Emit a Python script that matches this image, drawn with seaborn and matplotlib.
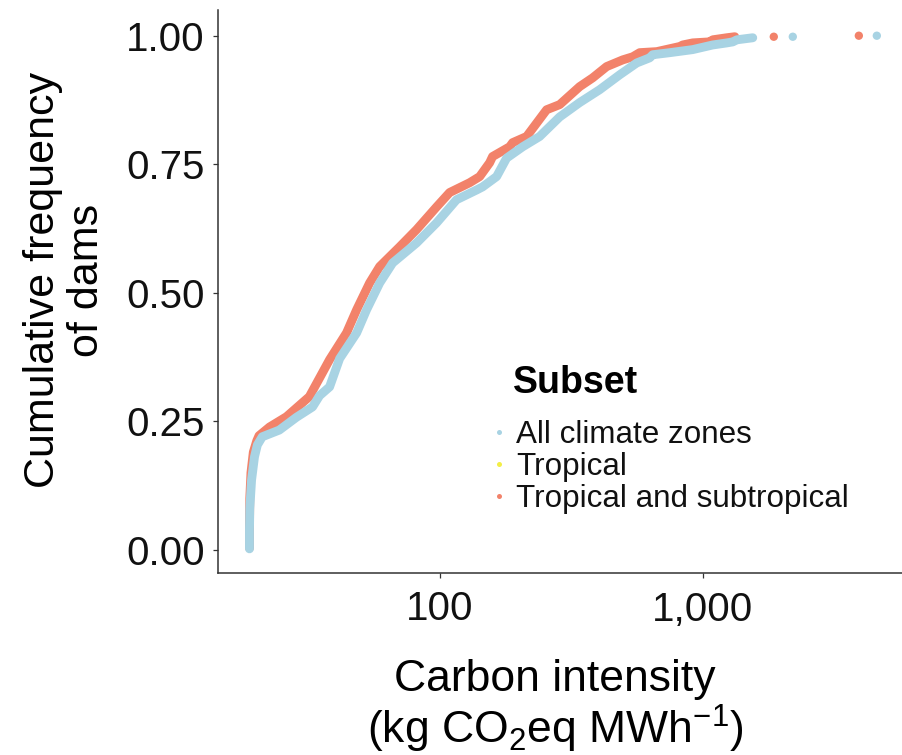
import numpy as np
import pandas as pd
import matplotlib
matplotlib.use("Agg")
import matplotlib.pyplot as plt
from matplotlib.lines import Line2D
from matplotlib.ticker import NullLocator
import seaborn as sns

# ---------------- data ----------------
subsets = ["All climate zones", "Tropical", "Tropical and subtropical"]
palette = {"All climate zones": "#A8D3E3",
           "Tropical": "#F3EE45",
           "Tropical and subtropical": "#F2826A"}

# All climate zones: carbon intensity (kg CO2eq/MWh) vs cumulative frequency
all_x = [18.95, 18.95, 19.0, 19.3, 19.8, 20.3, 21.2, 24.6, 28.6, 32.9, 35.0,
         38.2, 41.7, 48.4, 52.8, 59.2, 66.3, 81.8, 97.4, 116.0, 138.3, 145.7,
         164.7, 179.8, 206.9, 240.0, 286.0, 340.7, 405.8, 483.6, 561.2, 628.8,
         645.5, 749.1, 916.2, 1091, 1234, 1301, 1347, 1444, 1549]
all_y = [0.002, 0.040, 0.080, 0.136, 0.181, 0.204, 0.220, 0.233, 0.258, 0.278, 0.300,
         0.317, 0.372, 0.422, 0.467, 0.519, 0.558, 0.597, 0.636, 0.681, 0.700, 0.706,
         0.726, 0.762, 0.784, 0.804, 0.842, 0.870, 0.895, 0.924, 0.947, 0.957,
         0.963, 0.967, 0.973, 0.982, 0.986, 0.988, 0.992, 0.994, 0.996]
all_tail_x = [2199, 4587]
all_tail_y = [0.998, 1.000]

# Tropical and subtropical
trsub_x = [18.95, 18.95, 19.0, 19.2, 19.6, 20.2, 20.6, 22.6, 26.2, 32.0, 38.2,
           44.3, 48.4, 54.2, 59.2, 70.4, 81.8, 97.4, 109.2, 130.0, 142.0, 155.0,
           159.0, 184.6, 189.5, 214.2, 255.2, 286.0, 340.7, 381.6, 431.5, 496.5,
           541.9, 576.1, 668.6, 817.8, 839.5, 916.2, 1063, 1091, 1234, 1324]
trsub_y = [0.004, 0.050, 0.100, 0.150, 0.190, 0.212, 0.222, 0.239, 0.259, 0.298, 0.370,
           0.422, 0.467, 0.519, 0.551, 0.589, 0.623, 0.667, 0.695, 0.714, 0.726, 0.753,
           0.765, 0.784, 0.792, 0.804, 0.856, 0.866, 0.901, 0.918, 0.940, 0.953,
           0.959, 0.967, 0.969, 0.979, 0.982, 0.986, 0.988, 0.992, 0.996, 0.998]
trsub_tail_x = [1862, 3919]
trsub_tail_y = [0.998, 1.000]

x_ticks = [100, 1000]
x_tick_labels = ["100", "1,000"]
y_ticks = [0.00, 0.25, 0.50, 0.75, 1.00]
y_tick_labels = ["0.00", "0.25", "0.50", "0.75", "1.00"]

# ---------------- tables ----------------
curve_all = pd.DataFrame({"intensity": all_x, "freq": all_y, "subset": subsets[0]})
curve_trsub = pd.DataFrame({"intensity": trsub_x, "freq": trsub_y, "subset": subsets[2]})
tail = pd.concat([
    pd.DataFrame({"intensity": trsub_tail_x, "freq": trsub_tail_y, "subset": subsets[2]}),
    pd.DataFrame({"intensity": all_tail_x, "freq": all_tail_y, "subset": subsets[0]}),
], ignore_index=True)

# ---------------- style ----------------
sns.set_theme(style="white")
plt.rcParams["font.family"] = ["Liberation Sans", "DejaVu Sans"]
plt.rcParams["mathtext.fontset"] = "custom"
plt.rcParams["mathtext.rm"] = "Liberation Sans"
plt.rcParams["mathtext.it"] = "Liberation Sans:italic"
plt.rcParams["mathtext.bf"] = "Liberation Sans:bold"

W, H = 902, 755
fig = plt.figure(figsize=(W / 100, H / 100), dpi=100)
ax = fig.add_axes([218 / W, (H - 573) / H, 690 / W, 563 / H])
ax.set_xscale("log")

lw = 6.4
for df in (curve_trsub, curve_all):
    sns.lineplot(data=df, x="intensity", y="freq", hue="subset", palette=palette,
                 sort=False, estimator=None, linewidth=lw, legend=False, ax=ax,
                 solid_capstyle="round", solid_joinstyle="round")
sns.scatterplot(data=tail, x="intensity", y="freq", hue="subset", palette=palette,
                s=36, edgecolor="none", linewidth=0, legend=False, ax=ax)

ax.set_xlim(10 ** 1.158, 10 ** 3.78)
ax.set_ylim(-0.045, 1.05)
ax.set_xticks(x_ticks)
ax.set_xticklabels(x_tick_labels)
ax.xaxis.set_minor_locator(NullLocator())
ax.set_yticks(y_ticks)
ax.set_yticklabels(y_tick_labels)
ax.set_xlabel("")
ax.set_ylabel("")

for s in ("top", "right"):
    ax.spines[s].set_visible(False)
for s in ("left", "bottom"):
    ax.spines[s].set_color("#333333")
    ax.spines[s].set_linewidth(1.1)
ax.tick_params(axis="both", which="major", length=3.6, width=0.9, color="#333333",
               labelsize=29, labelcolor="#111111", left=True, bottom=True)
ax.tick_params(axis="y", pad=6)
ax.tick_params(axis="x", pad=9)

# axis titles
fig.text(65 / W, 1 - 280 / H, "Cumulative frequency\nof dams", rotation=90,
         ha="center", va="center", fontsize=31, linespacing=1.12,
         multialignment="center", color="black")
fig.text(555 / W, 1 - 680 / H, "Carbon intensity", ha="center", va="center",
         fontsize=32, color="black")
fig.text(555 / W, 1 - 729 / H, r"(kg CO$_2$eq MWh$^{-1}$)", ha="center", va="center",
         fontsize=32, color="black")

# legend
fig.text(513 / W, 1 - 393 / H, "Subset", ha="left", va="baseline",
         fontsize=27, fontweight="bold", color="black")
handles = [Line2D([], [], marker="o", linestyle="", markersize=3.6,
                  markerfacecolor=palette[s], markeredgewidth=0) for s in subsets]
leg = ax.legend(handles, subsets, loc="upper left",
                bbox_to_anchor=(492.7 / W, 1 - 420 / H), bbox_transform=fig.transFigure,
                frameon=False, fontsize=22.6, handlelength=0.4, handletextpad=0.34,
                labelspacing=0.065, borderpad=0, borderaxespad=0)
for t in leg.get_texts():
    t.set_color("#111111")

fig.savefig("out.png", dpi=100)
